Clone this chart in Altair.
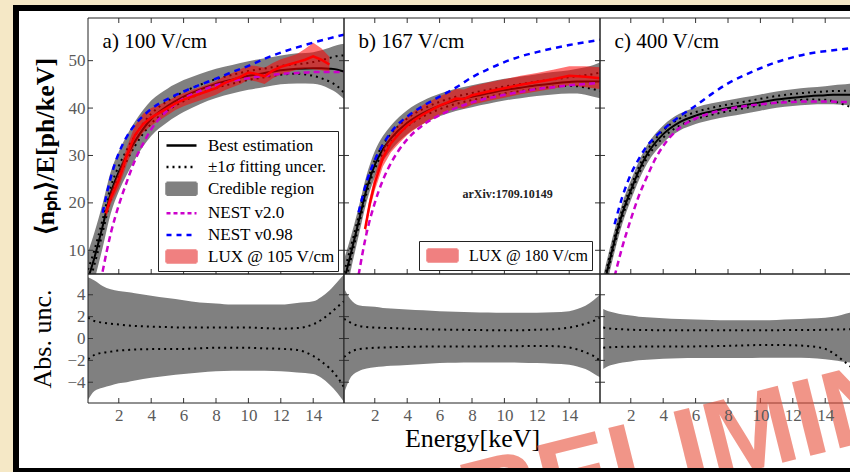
import altair as alt
import pandas as pd

# ---------------- data ----------------
PANEL_LABELS = ["a) 100 V/cm", "b) 167 V/cm", "c) 400 V/cm"]
LABEL_POS = [1.0, 54.0]
ARXIV_TEXT = "arXiv:1709.10149"
ARXIV_POS = [10.2, 21.9]

XTICKS = [2, 4, 6, 8, 10, 12, 14]
YTICKS_TOP = [10, 20, 30, 40, 50]
YTICKS_BOT = [-4, -2, 0, 2, 4]

GRID_AB = [0.1, 0.5, 1.0, 1.5, 2.0, 2.5, 3.0, 4.0, 5.0, 6.0, 7.0, 8.0, 9.0, 10.0,
           11.0, 12.0, 13.0, 14.0, 14.5, 15.0, 15.5, 15.9]
GRID_C = [0.3, 0.5, 1.0, 1.5, 2.0, 2.5, 3.0, 4.0, 5.0, 6.0, 7.0, 8.0, 9.0, 10.0,
          11.0, 12.0, 13.0, 14.0, 14.5, 15.0, 15.5, 15.9]

BEST_A = [4.0, 8.5, 15.0, 22.0, 26.5, 30.0, 33.0, 37.7, 40.4, 42.4, 43.9, 45.1, 46.0, 46.8,
          47.4, 48.0, 48.3, 48.4, 48.4, 48.3, 48.1, 47.7]
UNC_HI_A = [5.6, 5.3, 4.8, 4.5, 4.35, 4.25, 4.15, 3.9, 3.7, 3.5, 3.3, 3.2, 3.1, 3.1,
            3.1, 3.1, 3.25, 3.4, 3.8, 4.4, 5.2, 5.85]
UNC_LO_A = [-5.6, -4.8, -4.5, -4.3, -4.1, -4.0, -3.85, -3.6, -3.4, -3.25, -3.1, -3.0, -2.95, -2.95,
            -2.95, -3.0, -3.1, -3.25, -3.6, -4.2, -5.0, -5.8]
SIG_HI_A = [1.9, 1.6, 1.45, 1.35, 1.28, 1.2, 1.15, 1.08, 1.05, 1.0, 1.0, 1.0, 1.0, 1.0,
            0.95, 0.9, 0.95, 1.3, 1.7, 2.25, 2.9, 3.4]
SIG_LO_A = [-1.9, -1.5, -1.3, -1.2, -1.1, -1.05, -1.0, -0.97, -0.95, -0.95, -0.9, -0.85, -0.85, -0.85,
            -0.9, -0.95, -1.05, -1.6, -2.1, -2.7, -3.55, -4.45]

BEST_B = [3.5, 9.0, 16.0, 23.0, 28.0, 31.3, 33.6, 36.9, 39.0, 40.5, 41.6, 42.4, 43.1, 43.8,
          44.3, 44.8, 45.2, 45.5, 45.6, 45.6, 45.6, 45.6]
UNC_HI_B = [4.6, 3.6, 3.05, 2.95, 2.9, 2.8, 2.75, 2.66, 2.58, 2.5, 2.45, 2.4, 2.38, 2.36,
            2.36, 2.36, 2.4, 2.5, 2.7, 3.0, 3.5, 4.0]
UNC_LO_B = [-5.0, -3.6, -3.0, -2.75, -2.62, -2.55, -2.5, -2.43, -2.33, -2.25, -2.22, -2.2, -2.2, -2.2,
            -2.22, -2.25, -2.32, -2.4, -2.55, -2.8, -3.2, -3.55]
SIG_HI_B = [1.8, 1.45, 1.15, 1.05, 1.0, 0.97, 0.95, 0.9, 0.85, 0.82, 0.8, 0.78, 0.76, 0.75,
            0.76, 0.8, 0.85, 1.0, 1.15, 1.35, 1.6, 1.9]
SIG_LO_B = [-1.7, -1.25, -0.97, -0.9, -0.85, -0.82, -0.8, -0.76, -0.74, -0.73, -0.73, -0.73, -0.72, -0.72,
            -0.7, -0.68, -0.7, -0.82, -1.0, -1.27, -1.6, -2.05]

BEST_C = [2.0, 5.0, 12.0, 18.0, 22.6, 26.8, 30.2, 34.5, 37.0, 38.4, 39.3, 40.0, 40.6, 41.2,
          41.8, 42.2, 42.5, 42.7, 42.8, 42.8, 42.8, 42.7]
UNC_HI_C = [2.7, 2.55, 2.35, 2.2, 2.1, 2.0, 1.95, 1.85, 1.78, 1.73, 1.7, 1.66, 1.66, 1.66,
            1.7, 1.75, 1.82, 1.9, 2.0, 2.15, 2.35, 2.5]
UNC_LO_C = [-2.8, -2.6, -2.35, -2.2, -2.1, -2.0, -1.95, -1.85, -1.8, -1.78, -1.78, -1.78, -1.78, -1.76,
            -1.75, -1.75, -1.78, -1.9, -2.0, -2.1, -2.2, -2.3]
SIG_HI_C = [1.0, 0.95, 0.88, 0.84, 0.8, 0.78, 0.77, 0.76, 0.75, 0.75, 0.75, 0.75, 0.75, 0.75,
            0.76, 0.78, 0.78, 0.8, 0.82, 0.83, 0.85, 0.86]
SIG_LO_C = [-0.85, -0.82, -0.78, -0.76, -0.75, -0.74, -0.73, -0.73, -0.73, -0.72, -0.7, -0.67, -0.63, -0.6,
            -0.6, -0.62, -0.7, -0.95, -1.35, -1.9, -2.5, -3.0]

NEST_E = [1.0, 1.5, 2.0, 2.5, 3.0, 3.5, 4.0, 5.0, 6.0, 7.0, 8.0, 9.0, 10.0, 11.0, 12.0, 13.0, 14.0, 15.0, 15.9]
NEST2_A = [5.5, 13.5, 19.5, 24.5, 29.0, 32.5, 35.5, 39.5, 42.0, 43.6, 44.8, 45.7, 46.3, 46.8, 47.2, 47.4, 47.6, 47.6, 47.6]
NEST2_B = [4.8, 13.7, 20.0, 24.8, 28.4, 31.2, 33.4, 36.5, 38.5, 40.0, 41.2, 42.1, 42.8, 43.4, 44.0, 44.4, 44.8, 45.1, 45.3]
NEST2_C = [4.5, 11.0, 16.5, 21.5, 25.5, 29.2, 32.0, 35.8, 37.8, 39.0, 39.8, 40.4, 40.8, 41.1, 41.3, 41.4, 41.4, 41.3, 41.2]
NEST098_A = [17.9, 25.3, 30.5, 34.0, 36.5, 38.3, 39.8, 41.9, 43.5, 44.9, 46.2, 47.6, 48.9, 50.4, 51.7, 52.8, 53.8, 54.7, 55.5]
NEST098_B = [18.0, 24.5, 29.0, 32.3, 34.9, 36.8, 38.2, 40.5, 42.4, 44.3, 46.5, 48.2, 49.7, 50.9, 51.8, 52.6, 53.3, 53.9, 54.4]
NEST098_C = [15.5, 21.5, 26.0, 29.3, 32.0, 33.9, 35.5, 38.2, 40.5, 43.0, 45.2, 46.9, 48.4, 49.7, 50.7, 51.5, 52.0, 52.4, 52.7]

LUX_A_E = [1.2, 1.5, 2.0, 2.5, 3.0, 3.5, 4.0, 4.5, 5.0, 5.5, 6.0, 6.5, 7.0, 7.5, 8.0, 8.5, 9.0, 9.5,
           10.0, 10.5, 11.0, 11.5, 12.0, 12.5, 13.0, 13.5, 14.0, 14.5, 15.0]
LUX_A = [17.8, 21.0, 24.8, 30.0, 34.3, 36.6, 38.0, 39.0, 40.0, 41.0, 41.8, 42.4, 43.0, 43.6, 44.2, 45.2, 45.9, 46.6,
         47.5, 47.2, 46.7, 47.9, 48.7, 49.2, 49.7, 50.2, 50.9, 50.2, 49.2]
LUX_A_HI = [18.8, 22.3, 26.5, 31.8, 36.3, 38.8, 40.0, 40.7, 41.5, 42.4, 43.2, 43.8, 44.4, 45.0, 45.7, 46.7, 47.4, 48.2,
            49.0, 48.9, 48.5, 49.5, 50.3, 50.8, 51.4, 52.5, 53.8, 52.6, 50.8]
LUX_A_LO = [16.8, 19.7, 23.2, 28.2, 32.4, 34.8, 36.3, 37.4, 38.5, 39.6, 40.4, 41.0, 41.6, 42.2, 42.8, 43.7, 44.4, 45.0,
            46.0, 45.6, 45.1, 46.3, 47.1, 47.6, 48.1, 48.3, 48.2, 48.0, 47.7]

LUX_B_E = [1.4, 1.7, 2.0, 2.5, 3.0, 3.5, 4.0, 4.5, 5.0, 5.5, 6.0, 6.5, 7.0, 7.5, 8.0, 9.0, 10.0, 11.0,
           12.0, 13.0, 14.0, 15.0, 15.9]
LUX_B = [14.5, 20.0, 24.2, 29.5, 32.6, 34.6, 36.3, 37.6, 38.7, 39.6, 40.5, 41.2, 42.0, 41.9, 42.7, 43.5, 44.2, 44.9,
         45.5, 46.1, 46.8, 46.6, 46.3]
LUX_B_HI = [15.5, 21.3, 25.8, 31.3, 34.5, 36.6, 38.3, 39.6, 40.7, 41.6, 42.5, 43.2, 44.0, 43.9, 44.6, 45.4, 46.1, 46.8,
            47.4, 48.1, 48.8, 48.8, 48.6]
LUX_B_LO = [13.5, 18.7, 22.6, 27.7, 30.7, 32.6, 34.3, 35.6, 36.7, 37.6, 38.5, 39.2, 40.0, 39.9, 40.7, 41.5, 42.2, 42.9,
            43.5, 44.1, 44.8, 44.4, 44.0]

LEG_A_NAMES = ["Best estimation", "\u00b11\u03c3 fitting uncer.", "Credible region",
               "NEST v2.0", "NEST v0.98", "LUX @ 105 V/cm"]
LEG_B_NAMES = ["LUX @ 180 V/cm"]
WATERMARK = "PRELIMINARY"

# ---------------- styling ----------------
SERIF = "Liberation Serif"
BEIGE = "#f5e8c6"
GRAY = "#808080"
MAGENTA = "#cc00cc"
BLUE = "#0000ff"
RED = "#ff0000"
SALMON = "#f08080"
W, HT, HB = 256, 256, 129
XS = alt.Scale(domain=[0.1, 15.9], nice=False, zero=False)
YS_TOP = alt.Scale(domain=[5, 59], nice=False, zero=False)
YS_BOT = alt.Scale(domain=[-5.9, 5.9], nice=False, zero=False)

LINE = "M-1.5,0H1.5"
BOX = "M-1.5,-0.6H1.5V0.6H-1.5Z"


def legend_layer(names, shapes, strokes, fills, dashes, lx, ly, X, fs=17):
    df = pd.DataFrame({"series": names, "E": [-5.0] * len(names)})
    kw = dict(orient="none", legendX=lx, legendY=ly, title=None, fillColor="white",
              strokeColor="#222222", padding=3, rowPadding=1.6, symbolOffset=9,
              labelOffset=15, labelFont=SERIF, labelFontSize=fs, labelColor="black",
              symbolSize=400, symbolStrokeWidth=2.5, labelLimit=400)
    return alt.Chart(df).mark_point(filled=True, opacity=1, strokeWidth=2.5, clip=True).encode(
        x=X("E"),
        shape=alt.Shape("series:N", scale=alt.Scale(domain=names, range=shapes), legend=alt.Legend(**kw)),
        stroke=alt.Stroke("series:N", scale=alt.Scale(domain=names, range=strokes), legend=alt.Legend(**kw)),
        fill=alt.Fill("series:N", scale=alt.Scale(domain=names, range=fills), legend=alt.Legend(**kw)),
        strokeDash=alt.StrokeDash("series:N", scale=alt.Scale(domain=names, range=dashes), legend=alt.Legend(**kw)),
    )


def tick_layers(X, Y, h, yticks, top):
    tx = pd.DataFrame({"t": XTICKS})
    ty = pd.DataFrame({"t": yticks})
    st = dict(color="#333333", strokeWidth=1)
    out = [alt.Chart(tx).mark_rule(**st).encode(x=X("t"), y=alt.value(h), y2=alt.value(h - 5))]
    if top:
        out.append(alt.Chart(tx).mark_rule(**st).encode(x=X("t"), y=alt.value(0), y2=alt.value(5)))
    out.append(alt.Chart(ty).mark_rule(**st).encode(y=Y("t"), x=alt.value(0), x2=alt.value(5)))
    out.append(alt.Chart(ty).mark_rule(**st).encode(y=Y("t"), x=alt.value(W), x2=alt.value(W - 5)))
    return out


def border(h):
    return alt.Chart(pd.DataFrame({"k": [0]})).mark_rect(
        fill="transparent", stroke="#222222", strokeWidth=1
    ).encode(x=alt.value(0), x2=alt.value(W), y=alt.value(0), y2=alt.value(h))


def top_panel(i, grid, best, uhi, ulo, shi, slo, n2, n098, lux=None, legend=None, arxiv=False, frame=False):
    yax = None
    if i == 0:
        yax = alt.Axis(values=YTICKS_TOP, title="\u27e8n\u209a\u2095\u27e9/E[ph/keV]",
                       titlePadding=10, labelPadding=3, titleFontWeight="bold", zindex=2)
    X = lambda f: alt.X(f, type="quantitative", scale=XS, axis=None)
    Y = lambda f: alt.Y(f, type="quantitative", scale=YS_TOP, axis=yax)
    df = pd.DataFrame({
        "E": grid, "best": best,
        "hi": [b + u for b, u in zip(best, uhi)], "lo": [b + u for b, u in zip(best, ulo)],
        "shi": [b + u for b, u in zip(best, shi)], "slo": [b + u for b, u in zip(best, slo)],
    })
    ndf = pd.DataFrame({"E": NEST_E, "n2": n2, "n098": n098})
    layers = []
    if frame:
        layers.append(alt.Chart(pd.DataFrame({"k": [0]})).mark_rect(fill="white", stroke="black", strokeWidth=6)
                      .encode(x=alt.value(-72), x2=alt.value(780), y=alt.value(-10), y2=alt.value(453)))
    layers.append(alt.Chart(df).mark_area(color=GRAY, interpolate="monotone", clip=True)
                  .encode(x=X("E"), y=Y("lo"), y2="hi"))
    for f in ["shi", "slo"]:
        layers.append(alt.Chart(df).mark_line(color="black", strokeWidth=2, strokeDash=[2, 4],
                                              interpolate="monotone", clip=True)
                      .encode(x=X("E"), y=Y(f)))
    layers.append(alt.Chart(df).mark_line(color="black", strokeWidth=2, interpolate="monotone", clip=True)
                  .encode(x=X("E"), y=Y("best")))
    if lux is not None:
        ldf = pd.DataFrame({"E": lux[0], "v": lux[1], "hi": lux[2], "lo": lux[3]})
        layers.append(alt.Chart(ldf).mark_area(color=RED, opacity=0.55, clip=True)
                      .encode(x=X("E"), y=Y("lo"), y2="hi"))
    layers.append(alt.Chart(ndf).mark_line(color=MAGENTA, strokeWidth=2.5, strokeDash=[6, 4],
                                           interpolate="monotone", clip=True)
                  .encode(x=X("E"), y=Y("n2")))
    layers.append(alt.Chart(ndf).mark_line(color=BLUE, strokeWidth=2.5, strokeDash=[6, 5],
                                           interpolate="monotone", clip=True)
                  .encode(x=X("E"), y=Y("n098")))
    if lux is not None:
        layers.append(alt.Chart(ldf).mark_line(color=RED, strokeWidth=2.5, clip=True)
                      .encode(x=X("E"), y=Y("v")))
    layers += tick_layers(X, Y, HT, YTICKS_TOP, True)
    tdf = pd.DataFrame({"x": [LABEL_POS[0]], "y": [LABEL_POS[1]], "label": [PANEL_LABELS[i]]})
    layers.append(alt.Chart(tdf).mark_text(align="left", baseline="middle", font=SERIF, fontSize=21,
                                           color="black").encode(x=X("x"), y=Y("y"), text="label:N"))
    if arxiv:
        adf = pd.DataFrame({"x": [ARXIV_POS[0]], "y": [ARXIV_POS[1]], "label": [ARXIV_TEXT]})
        layers.append(alt.Chart(adf).mark_text(align="center", baseline="middle", font=SERIF, fontSize=12,
                                               fontWeight="bold", color="#222222")
                      .encode(x=X("x"), y=Y("y"), text="label:N"))
    if legend is not None:
        layers.append(legend(X))
    layers.append(border(HT))
    return alt.layer(*layers).properties(width=W, height=HT)


def bottom_panel(i, grid, uhi, ulo, shi, slo, last=False):
    xax = alt.Axis(values=XTICKS, labelPadding=4, title="Energy[keV]" if i == 1 else None,
                   titlePadding=2, zindex=2)
    yax = None
    if i == 0:
        yax = alt.Axis(values=YTICKS_BOT, title="Abs. unc.", titlePadding=11, labelPadding=3, zindex=2)
    X = lambda f: alt.X(f, type="quantitative", scale=XS, axis=xax)
    Y = lambda f: alt.Y(f, type="quantitative", scale=YS_BOT, axis=yax)
    df = pd.DataFrame({"E": grid, "hi": uhi, "lo": ulo, "shi": shi, "slo": slo})
    layers = [alt.Chart(df).mark_area(color=GRAY, interpolate="monotone", clip=True)
              .encode(x=X("E"), y=Y("lo"), y2="hi")]
    for f in ["shi", "slo"]:
        layers.append(alt.Chart(df).mark_line(color="black", strokeWidth=2, strokeDash=[2, 4],
                                              interpolate="monotone", clip=True)
                      .encode(x=X("E"), y=Y(f)))
    layers += tick_layers(X, Y, HB, YTICKS_BOT, False)
    layers.append(border(HB))
    if last:
        wdf = pd.DataFrame({"w": [WATERMARK]})
        layers.append(alt.Chart(wdf).mark_text(font="Liberation Sans", fontWeight="bold", fontSize=110,
                                               angle=346, align="left", baseline="alphabetic",
                                               color="#e8503a", opacity=0.6)
                      .encode(x=alt.value(-200), y=alt.value(284), text="w:N"))
        layers.append(alt.Chart(pd.DataFrame({"k": [0]})).mark_rect(fill="transparent", stroke="black",
                                                                      strokeWidth=6)
                      .encode(x=alt.value(-584), x2=alt.value(270), y=alt.value(-266), y2=alt.value(197)))
    return alt.layer(*layers).properties(width=W, height=HB)


leg_a = lambda X: legend_layer(LEG_A_NAMES, [LINE, LINE, BOX, LINE, LINE, BOX],
                               ["black", "black", GRAY, MAGENTA, BLUE, SALMON],
                               ["transparent", "transparent", GRAY, "transparent", "transparent", SALMON],
                               [[1, 0], [2, 4], [1, 0], [4, 3], [5, 5], [1, 0]], 70, 113, X)
leg_b = lambda X: legend_layer(LEG_B_NAMES, [BOX], [SALMON], [SALMON], [[1, 0]], 75, 223, X, fs=16)

ta = top_panel(0, GRID_AB, BEST_A, UNC_HI_A, UNC_LO_A, SIG_HI_A, SIG_LO_A, NEST2_A, NEST098_A,
               lux=(LUX_A_E, LUX_A, LUX_A_HI, LUX_A_LO), legend=leg_a, frame=True)
tb = top_panel(1, GRID_AB, BEST_B, UNC_HI_B, UNC_LO_B, SIG_HI_B, SIG_LO_B, NEST2_B, NEST098_B,
               lux=(LUX_B_E, LUX_B, LUX_B_HI, LUX_B_LO), legend=leg_b, arxiv=True)
tc = top_panel(2, GRID_C, BEST_C, UNC_HI_C, UNC_LO_C, SIG_HI_C, SIG_LO_C, NEST2_C, NEST098_C)
ba = bottom_panel(0, GRID_AB, UNC_HI_A, UNC_LO_A, SIG_HI_A, SIG_LO_A)
bb = bottom_panel(1, GRID_AB, UNC_HI_B, UNC_LO_B, SIG_HI_B, SIG_LO_B)
bc = bottom_panel(2, GRID_C, UNC_HI_C, UNC_LO_C, SIG_HI_C, SIG_LO_C, last=True)

ind = "independent"
chart = alt.concat(ta, tb, tc, ba, bb, bc, columns=3, spacing=0, bounds="flush").resolve_scale(
    x=ind, y=ind, shape=ind, stroke=ind, fill=ind, strokeDash=ind
).resolve_legend(
    shape=ind, stroke=ind, fill=ind, strokeDash=ind
).properties(
    background=BEIGE,
    autosize=alt.AutoSizeParams(type="none"),
    padding={"left": 88, "top": 18, "right": 762, "bottom": 454},
).configure_view(
    stroke="transparent"
).configure_axis(
    labelFont=SERIF, labelFontSize=17, labelColor="#5a5a5a", titleFont=SERIF, titleFontSize=26,
    titleColor="black", titleFontWeight="normal", grid=False, domain=False, ticks=False, tickSize=0
)

chart.save("out.html", embed_options={"renderer": "svg", "actions": False})
